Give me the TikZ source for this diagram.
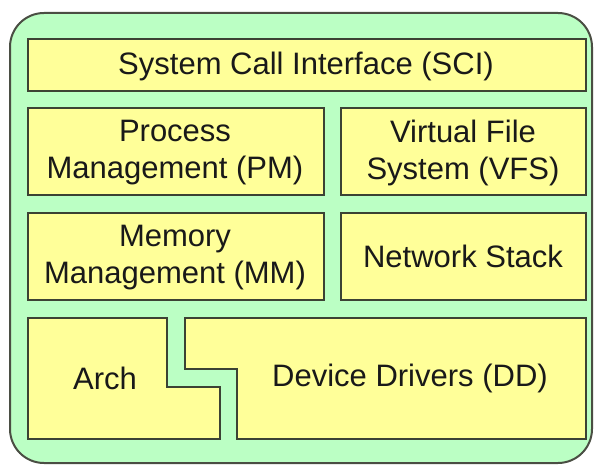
\documentclass[tikz,border=0pt]{standalone}
\usepackage{fontspec}
\setmainfont{Liberation Sans}
\definecolor{bggreen}{RGB}{187,255,196}
\definecolor{boxyellow}{RGB}{255,255,153}
\definecolor{edgecol}{RGB}{60,66,52}
\definecolor{txtcol}{RGB}{25,25,25}
\begin{document}
\begin{tikzpicture}[x=1pt,y=-1pt,
  outerbox/.style={draw=edgecol!80!gray, line width=2pt, fill=bggreen, rounded corners=34pt},
  box/.style={draw=edgecol, line width=1.8pt, fill=boxyellow, inner sep=0pt},
  label/.style={text=txtcol, align=center, font=\fontsize{31}{37}\selectfont},
  ]
\useasboundingbox (0,0) rectangle (594,465);
\draw[outerbox] (10,13) rectangle (592,463);
\node[box, minimum width=558pt, minimum height=52pt] (sci) at (307,65) {};
\node[label] (scit) at (306,66) {System Call Interface (SCI)};
\node[box, minimum width=296pt, minimum height=87pt] (pm) at (176,151.5) {};
\node[label] (pmt) at (175,152.5) {Process\\Management (PM)};
\node[box, minimum width=245pt, minimum height=87pt] (vfs) at (463.5,151.5) {};
\node[label] (vfst) at (463,152.5) {Virtual File\\System (VFS)};
\node[box, minimum width=296pt, minimum height=87pt] (mm) at (176,256.5) {};
\node[label] (mmt) at (175,257.5) {Memory\\Management (MM)};
\node[box, minimum width=245pt, minimum height=87pt] (ns) at (463.5,256.5) {};
\node[label] (nst) at (463,256) {Network Stack};
\draw[box] (28,318) -- (167,318) -- (167,387) -- (220,387) -- (220,439) -- (28,439) -- cycle;
\node[label] (arch) at (105,378) {Arch};
\draw[box] (185,318) -- (586,318) -- (586,439) -- (237,439) -- (237,369) -- (185,369) -- cycle;
\node[label] (dd) at (410,378) {Device Drivers (DD)};
\end{tikzpicture}
\end{document}
